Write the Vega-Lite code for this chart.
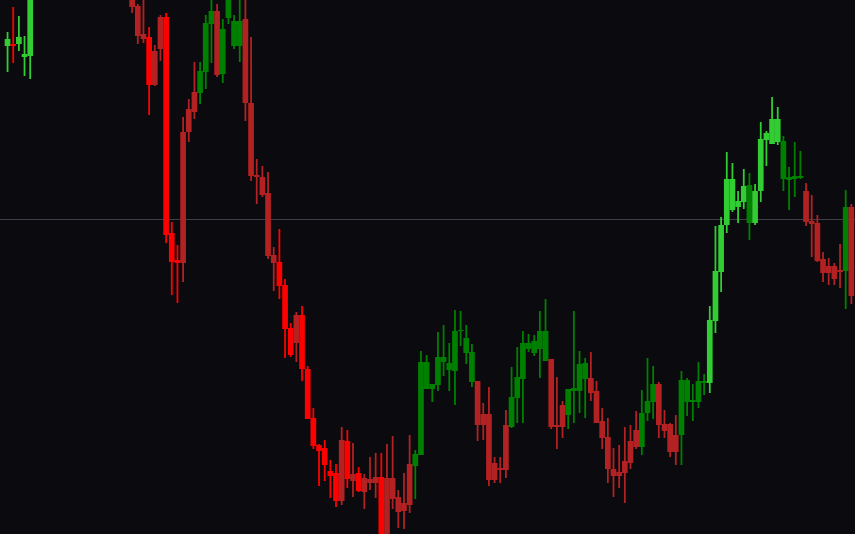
{
  "$schema": "https://vega.github.io/schema/vega-lite/v6.json",
  "width": 855,
  "height": 534,
  "padding": 0,
  "autosize": {"type": "none"},
  "background": "#0a0a0f",
  "config": {"view": {"stroke": null}},
  "datasets": {
    "candles": [
      {"i":0,"o":488,"h":502,"l":462,"c":495,"t":"strong_bull"},
      {"i":1,"o":490,"h":527,"l":471,"c":488,"t":"strong_bear"},
      {"i":2,"o":490,"h":518,"l":483,"c":497,"t":"strong_bull"},
      {"i":3,"o":477,"h":498,"l":458,"c":480,"t":"strong_bull"},
      {"i":4,"o":478,"h":564,"l":455,"c":554,"t":"strong_bull"},
      {"i":22,"o":544,"h":549,"l":521,"c":527,"t":"bear"},
      {"i":23,"o":528,"h":530,"l":490,"c":498,"t":"bear"},
      {"i":24,"o":500,"h":539,"l":491,"c":495,"t":"bear"},
      {"i":25,"o":497,"h":507,"l":419,"c":449,"t":"strong_bear"},
      {"i":26,"o":449,"h":489,"l":448,"c":483,"t":"bear"},
      {"i":27,"o":485,"h":519,"l":473,"c":517,"t":"bear"},
      {"i":28,"o":517,"h":521,"l":291,"c":299,"t":"strong_bear"},
      {"i":29,"o":301,"h":312,"l":239,"c":272,"t":"strong_bear"},
      {"i":30,"o":274,"h":289,"l":231,"c":271,"t":"strong_bear"},
      {"i":31,"o":271,"h":417,"l":252,"c":402,"t":"bear"},
      {"i":32,"o":402,"h":435,"l":392,"c":425,"t":"bear"},
      {"i":33,"o":422,"h":472,"l":415,"c":442,"t":"bear"},
      {"i":34,"o":441,"h":472,"l":430,"c":463,"t":"bull"},
      {"i":35,"o":462,"h":519,"l":445,"c":511,"t":"bull"},
      {"i":36,"o":510,"h":539,"l":471,"c":523,"t":"bull"},
      {"i":37,"o":523,"h":530,"l":457,"c":459,"t":"bear"},
      {"i":38,"o":460,"h":515,"l":451,"c":505,"t":"bull"},
      {"i":39,"o":516,"h":554,"l":510,"c":549,"t":"bull"},
      {"i":40,"o":488,"h":519,"l":485,"c":513,"t":"bull"},
      {"i":41,"o":488,"h":539,"l":472,"c":513,"t":"bull"},
      {"i":42,"o":515,"h":539,"l":413,"c":431,"t":"bear"},
      {"i":43,"o":431,"h":497,"l":353,"c":358,"t":"bear"},
      {"i":44,"o":359,"h":375,"l":330,"c":357,"t":"bear"},
      {"i":45,"o":357,"h":368,"l":337,"c":339,"t":"bear"},
      {"i":46,"o":341,"h":362,"l":275,"c":278,"t":"bear"},
      {"i":47,"o":279,"h":287,"l":243,"c":271,"t":"bear"},
      {"i":48,"o":272,"h":305,"l":235,"c":248,"t":"strong_bear"},
      {"i":49,"o":249,"h":255,"l":176,"c":205,"t":"strong_bear"},
      {"i":50,"o":206,"h":211,"l":177,"c":179,"t":"strong_bear"},
      {"i":51,"o":191,"h":222,"l":172,"c":219,"t":"bear"},
      {"i":52,"o":219,"h":228,"l":153,"c":165,"t":"strong_bear"},
      {"i":53,"o":165,"h":168,"l":115,"c":115,"t":"strong_bear"},
      {"i":54,"o":116,"h":126,"l":85,"c":88,"t":"strong_bear"},
      {"i":55,"o":89,"h":90,"l":48,"c":83,"t":"strong_bear"},
      {"i":56,"o":86,"h":94,"l":53,"c":69,"t":"strong_bear"},
      {"i":57,"o":63,"h":74,"l":36,"c":58,"t":"strong_bear"},
      {"i":58,"o":61,"h":70,"l":27,"c":33,"t":"strong_bear"},
      {"i":59,"o":33,"h":107,"l":29,"c":94,"t":"bear"},
      {"i":60,"o":93,"h":104,"l":46,"c":55,"t":"strong_bear"},
      {"i":61,"o":60,"h":91,"l":37,"c":53,"t":"bear"},
      {"i":62,"o":61,"h":67,"l":42,"c":43,"t":"strong_bear"},
      {"i":63,"o":42,"h":60,"l":25,"c":56,"t":"bear"},
      {"i":64,"o":55,"h":77,"l":44,"c":51,"t":"bear"},
      {"i":65,"o":51,"h":81,"l":36,"c":57,"t":"bear"},
      {"i":66,"o":57,"h":81,"l":-16,"c":-11,"t":"strong_bear"},
      {"i":67,"o":-11,"h":90,"l":-16,"c":56,"t":"bear"},
      {"i":68,"o":56,"h":98,"l":25,"c":35,"t":"bear"},
      {"i":69,"o":37,"h":44,"l":6,"c":22,"t":"bear"},
      {"i":70,"o":31,"h":61,"l":5,"c":23,"t":"bear"},
      {"i":71,"o":29,"h":99,"l":21,"c":70,"t":"bear"},
      {"i":72,"o":68,"h":84,"l":35,"c":80,"t":"bull"},
      {"i":73,"o":79,"h":183,"l":79,"c":172,"t":"bull"},
      {"i":74,"o":172,"h":179,"l":145,"c":145,"t":"bull"},
      {"i":75,"o":145,"h":150,"l":132,"c":150,"t":"bull"},
      {"i":76,"o":149,"h":202,"l":143,"c":177,"t":"bull"},
      {"i":77,"o":177,"h":209,"l":158,"c":172,"t":"bull"},
      {"i":78,"o":171,"h":191,"l":143,"c":164,"t":"bull"},
      {"i":79,"o":163,"h":224,"l":129,"c":203,"t":"bull"},
      {"i":80,"o":203,"h":223,"l":188,"c":204,"t":"bull"},
      {"i":81,"o":196,"h":209,"l":170,"c":181,"t":"bull"},
      {"i":82,"o":182,"h":190,"l":147,"c":152,"t":"bull"},
      {"i":83,"o":153,"h":153,"l":93,"c":109,"t":"bear"},
      {"i":84,"o":109,"h":131,"l":94,"c":120,"t":"bear"},
      {"i":85,"o":120,"h":147,"l":48,"c":54,"t":"bear"},
      {"i":86,"o":54,"h":77,"l":51,"c":71,"t":"bear"},
      {"i":87,"o":66,"h":77,"l":51,"c":64,"t":"bear"},
      {"i":88,"o":64,"h":124,"l":56,"c":109,"t":"bear"},
      {"i":89,"o":107,"h":167,"l":106,"c":137,"t":"bull"},
      {"i":90,"o":136,"h":187,"l":111,"c":157,"t":"bull"},
      {"i":91,"o":155,"h":203,"l":111,"c":191,"t":"bull"},
      {"i":92,"o":185,"h":200,"l":182,"c":191,"t":"bull"},
      {"i":93,"o":181,"h":199,"l":178,"c":193,"t":"bull"},
      {"i":94,"o":185,"h":223,"l":156,"c":203,"t":"bull"},
      {"i":95,"o":173,"h":235,"l":173,"c":203,"t":"bull"},
      {"i":96,"o":175,"h":175,"l":105,"c":107,"t":"bear"},
      {"i":97,"o":107,"h":157,"l":85,"c":109,"t":"bear"},
      {"i":98,"o":107,"h":133,"l":96,"c":129,"t":"bear"},
      {"i":99,"o":119,"h":145,"l":105,"c":145,"t":"bull"},
      {"i":100,"o":143,"h":223,"l":111,"c":146,"t":"bull"},
      {"i":101,"o":143,"h":183,"l":121,"c":170,"t":"bull"},
      {"i":102,"o":155,"h":176,"l":116,"c":171,"t":"bull"},
      {"i":103,"o":156,"h":182,"l":133,"c":141,"t":"bear"},
      {"i":104,"o":143,"h":153,"l":111,"c":111,"t":"bear"},
      {"i":105,"o":113,"h":126,"l":85,"c":96,"t":"bear"},
      {"i":106,"o":97,"h":116,"l":51,"c":65,"t":"bear"},
      {"i":107,"o":65,"h":86,"l":37,"c":58,"t":"bear"},
      {"i":108,"o":58,"h":89,"l":46,"c":62,"t":"bear"},
      {"i":109,"o":61,"h":107,"l":31,"c":73,"t":"bear"},
      {"i":110,"o":71,"h":109,"l":65,"c":93,"t":"bear"},
      {"i":111,"o":87,"h":123,"l":85,"c":104,"t":"bear"},
      {"i":112,"o":87,"h":144,"l":79,"c":121,"t":"bull"},
      {"i":113,"o":121,"h":176,"l":113,"c":133,"t":"bull"},
      {"i":114,"o":132,"h":168,"l":115,"c":150,"t":"bull"},
      {"i":115,"o":150,"h":152,"l":96,"c":109,"t":"bear"},
      {"i":116,"o":110,"h":124,"l":96,"c":103,"t":"bear"},
      {"i":117,"o":110,"h":111,"l":77,"c":82,"t":"bear"},
      {"i":118,"o":82,"h":119,"l":69,"c":99,"t":"bear"},
      {"i":119,"o":99,"h":163,"l":69,"c":154,"t":"bull"},
      {"i":120,"o":154,"h":156,"l":118,"c":132,"t":"bull"},
      {"i":121,"o":132,"h":150,"l":113,"c":134,"t":"bull"},
      {"i":122,"o":132,"h":172,"l":126,"c":153,"t":"bull"},
      {"i":123,"o":151,"h":160,"l":139,"c":153,"t":"bull"},
      {"i":124,"o":151,"h":228,"l":141,"c":214,"t":"strong_bull"},
      {"i":125,"o":213,"h":308,"l":201,"c":263,"t":"strong_bull"},
      {"i":126,"o":262,"h":317,"l":242,"c":309,"t":"strong_bull"},
      {"i":127,"o":309,"h":382,"l":301,"c":355,"t":"strong_bull"},
      {"i":128,"o":355,"h":371,"l":322,"c":324,"t":"strong_bull"},
      {"i":129,"o":327,"h":343,"l":311,"c":333,"t":"strong_bull"},
      {"i":130,"o":332,"h":365,"l":325,"c":348,"t":"strong_bull"},
      {"i":131,"o":349,"h":361,"l":294,"c":311,"t":"bull"},
      {"i":132,"o":311,"h":350,"l":309,"c":343,"t":"strong_bull"},
      {"i":133,"o":343,"h":412,"l":332,"c":395,"t":"strong_bull"},
      {"i":134,"o":394,"h":403,"l":368,"c":401,"t":"strong_bull"},
      {"i":135,"o":390,"h":437,"l":390,"c":415,"t":"strong_bull"},
      {"i":136,"o":415,"h":427,"l":389,"c":392,"t":"strong_bull"},
      {"i":137,"o":393,"h":398,"l":343,"c":355,"t":"bull"},
      {"i":138,"o":354,"h":367,"l":324,"c":357,"t":"bull"},
      {"i":139,"o":355,"h":392,"l":337,"c":358,"t":"bull"},
      {"i":140,"o":356,"h":383,"l":355,"c":358,"t":"bull"},
      {"i":141,"o":343,"h":351,"l":308,"c":312,"t":"bear"},
      {"i":142,"o":313,"h":339,"l":277,"c":310,"t":"bear"},
      {"i":143,"o":311,"h":319,"l":272,"c":273,"t":"bear"},
      {"i":144,"o":275,"h":282,"l":252,"c":261,"t":"bear"},
      {"i":145,"o":261,"h":276,"l":249,"c":268,"t":"bear"},
      {"i":146,"o":268,"h":271,"l":249,"c":255,"t":"bear"},
      {"i":147,"o":262,"h":290,"l":246,"c":264,"t":"bear"},
      {"i":148,"o":263,"h":344,"l":225,"c":327,"t":"bull"},
      {"i":149,"o":327,"h":330,"l":230,"c":238,"t":"bear"}
    ],
    "levels": [{"level": 314.5}]
  },
  "layer": [
    {
      "data": {"name": "levels"},
      "mark": {"type": "rule", "color": "#3e3e48", "strokeWidth": 1},
      "encoding": {
        "y": {"field": "level", "type": "quantitative", "scale": {"domain": [0, 534], "nice": false, "zero": false}, "axis": null}
      }
    },
    {
      "data": {"name": "candles"},
      "mark": {"type": "rule", "strokeWidth": 1.8, "clip": true},
      "encoding": {
        "x": {"field": "i", "type": "quantitative", "scale": {"domain": [-0.45, 148.76], "nice": false, "zero": false}, "axis": null},
        "y": {"field": "l", "type": "quantitative", "scale": {"domain": [0, 534], "nice": false, "zero": false}, "axis": null},
        "y2": {"field": "h"},
        "color": {"field": "t", "type": "nominal", "scale": {"domain": ["strong_bull", "bull", "bear", "strong_bear"], "range": ["#32cd32", "#008000", "#b22222", "#ff0000"]}, "legend": null}
      }
    },
    {
      "data": {"name": "candles"},
      "mark": {"type": "bar", "width": 5.7, "clip": true},
      "encoding": {
        "x": {"field": "i", "type": "quantitative", "scale": {"domain": [-0.45, 148.76], "nice": false, "zero": false}, "axis": null},
        "y": {"field": "o", "type": "quantitative", "scale": {"domain": [0, 534], "nice": false, "zero": false}, "axis": null},
        "y2": {"field": "c"},
        "color": {"field": "t", "type": "nominal", "scale": {"domain": ["strong_bull", "bull", "bear", "strong_bear"], "range": ["#32cd32", "#008000", "#b22222", "#ff0000"]}, "legend": null}
      }
    }
  ]
}
